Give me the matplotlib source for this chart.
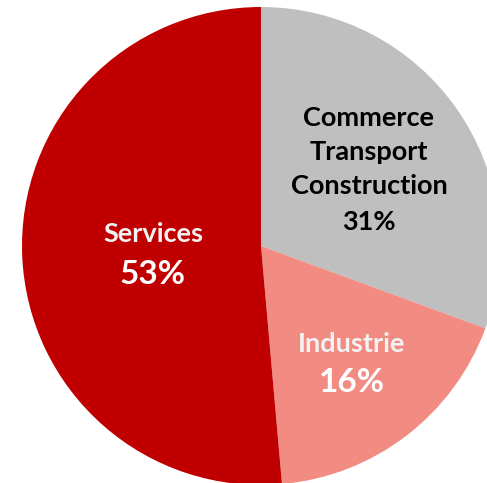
import matplotlib
matplotlib.use("Agg")
import matplotlib.pyplot as plt

categories = ["Commerce\nTransport\nConstruction", "Industrie", "Services"]
shares = [30.6, 18.0, 51.4]
pct_labels = ["31%", "16%", "53%"]
colors = ["#BFBFBF", "#F28B82", "#C00000"]

plt.rcParams['font.family'] = ['Lato', 'DejaVu Sans']

W, H = 487, 483
fig = plt.figure(figsize=(W / 100, H / 100), dpi=100)
cx, cy, r = 261, 246, 239
ax = fig.add_axes([(cx - r) / W, (H - cy - r) / H, 2 * r / W, 2 * r / H])
ax.pie(shares, colors=colors, startangle=90, counterclock=False,
       radius=1.0, center=(0, 0), wedgeprops=dict(linewidth=0))
ax.set_xlim(-1, 1)
ax.set_ylim(-1, 1)
ax.set_aspect('equal')
ax.axis('off')

def px(x, y):
    return ((x - cx) / r, (cy - y) / r)

# Commerce label
for line, y in zip(categories[0].split("\n") + [pct_labels[0]], [118, 152, 186, 222]):
    ax.text(*px(369, y), line, ha='center', va='center', fontsize=19.5,
            fontweight='bold', color='black')

# Services
ax.text(*px(153, 234), categories[2], ha='center', va='center', fontsize=19.5,
        fontweight='bold', color='#F2F2F2')
ax.text(*px(153, 275), pct_labels[2], ha='center', va='center', fontsize=24,
        fontweight='bold', color='white')

# Industrie
ax.text(*px(352, 344), categories[1], ha='center', va='center', fontsize=19.5,
        fontweight='bold', color='#F2F2F2')
ax.text(*px(352, 383), pct_labels[1], ha='center', va='center', fontsize=24,
        fontweight='bold', color='white')

fig.savefig("out.png", dpi=100)
